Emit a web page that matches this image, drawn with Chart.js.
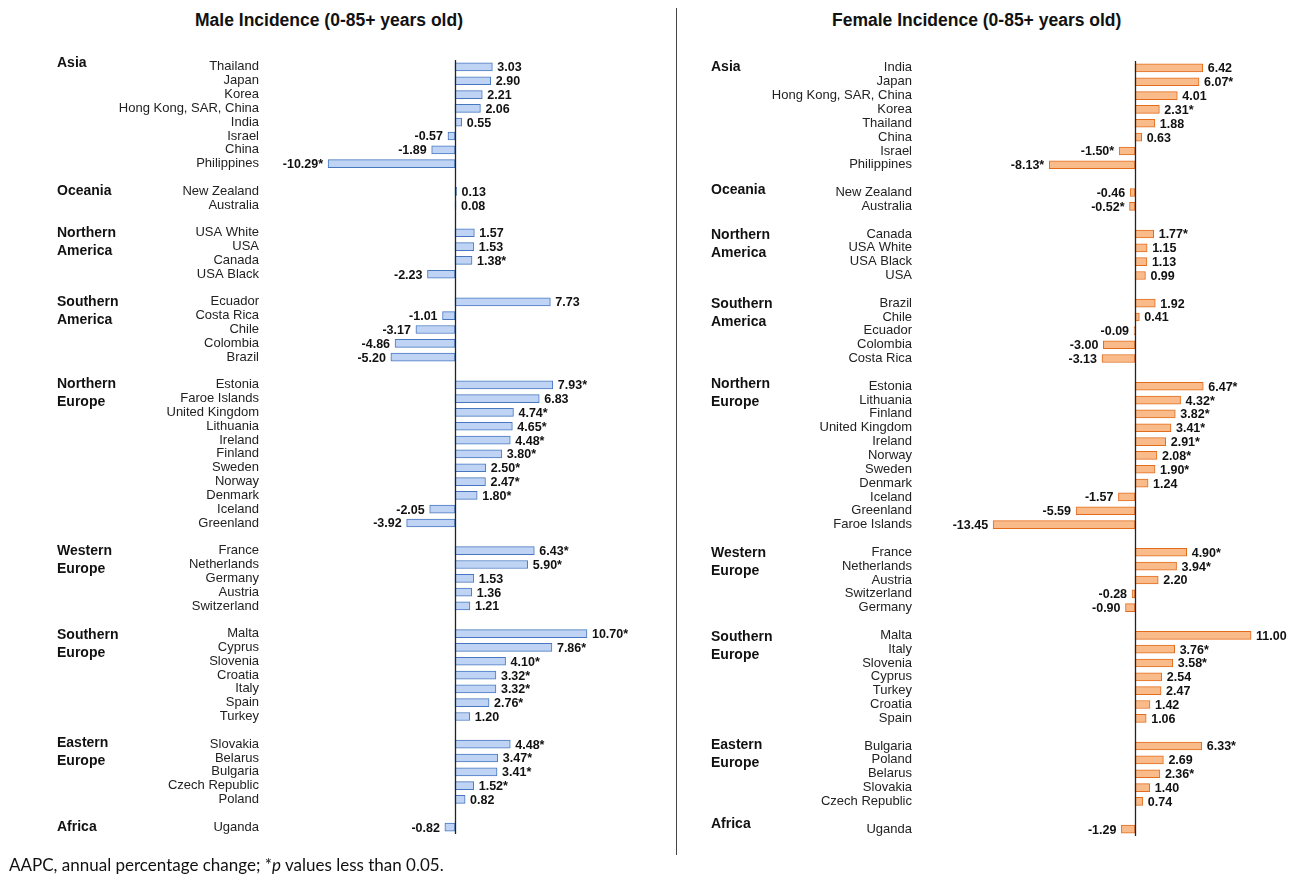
<!DOCTYPE html>
<html>
<head>
<meta charset="utf-8">
<script src="https://cdn.jsdelivr.net/npm/chart.js@4.4.0/dist/chart.umd.min.js"></script>
<style>
  body { margin: 0; background: #fff; width: 1291px; height: 874px; position: relative; overflow: hidden; }
  canvas { position: absolute; top: 0; }
  #male-chart { left: 0; }
  #female-chart { left: 676px; }
  .title { position: absolute; top: 10px; font: bold 17.5px "Liberation Sans", Arial, sans-serif; color: #111; white-space: nowrap; }
  #divider { position: absolute; left: 676px; top: 8px; width: 1px; height: 847px; background: #444; }
  #note { position: absolute; left: 9px; top: 854px; font: 17px Lato, "Open Sans", sans-serif; color: #111; white-space: nowrap; }
</style>
</head>
<body>
<div class="title" style="left:195px">Male Incidence (0-85+ years old)</div>
<div class="title" style="left:832px">Female Incidence (0-85+ years old)</div>
<div id="divider"></div>
<canvas id="male-chart" width="676" height="874"></canvas>
<canvas id="female-chart" width="615" height="874"></canvas>
<div id="note">AAPC, annual percentage change; *<i>p</i> values less than 0.05.</div>
<script>
const regionNames = ['Asia', 'Oceania', 'Northern\nAmerica', 'Southern\nAmerica', 'Northern\nEurope',
  'Western\nEurope', 'Southern\nEurope', 'Eastern\nEurope', 'Africa'];
const groupSizes = [8, 2, 4, 5, 11, 5, 7, 5, 1];

const maleCountries = [
  'Thailand', 'Japan', 'Korea', 'Hong Kong, SAR, China', 'India', 'Israel', 'China', 'Philippines',
  'New Zealand', 'Australia',
  'USA White', 'USA', 'Canada', 'USA Black',
  'Ecuador', 'Costa Rica', 'Chile', 'Colombia', 'Brazil',
  'Estonia', 'Faroe Islands', 'United Kingdom', 'Lithuania', 'Ireland', 'Finland', 'Sweden', 'Norway', 'Denmark', 'Iceland', 'Greenland',
  'France', 'Netherlands', 'Germany', 'Austria', 'Switzerland',
  'Malta', 'Cyprus', 'Slovenia', 'Croatia', 'Italy', 'Spain', 'Turkey',
  'Slovakia', 'Belarus', 'Bulgaria', 'Czech Republic', 'Poland',
  'Uganda'
];
const maleValues = [
  3.03, 2.90, 2.21, 2.06, 0.55, -0.57, -1.89, -10.29,
  0.13, 0.08,
  1.57, 1.53, 1.38, -2.23,
  7.73, -1.01, -3.17, -4.86, -5.20,
  7.93, 6.83, 4.74, 4.65, 4.48, 3.80, 2.50, 2.47, 1.80, -2.05, -3.92,
  6.43, 5.90, 1.53, 1.36, 1.21,
  10.70, 7.86, 4.10, 3.32, 3.32, 2.76, 1.20,
  4.48, 3.47, 3.41, 1.52, 0.82,
  -0.82
];
const maleSig = [
  0, 0, 0, 0, 0, 0, 0, 1,
  0, 0,
  0, 0, 1, 0,
  0, 0, 0, 0, 0,
  1, 0, 1, 1, 1, 1, 1, 1, 1, 0, 0,
  1, 1, 0, 0, 0,
  1, 1, 1, 1, 1, 1, 0,
  1, 1, 1, 1, 0,
  0
];

const femaleCountries = [
  'India', 'Japan', 'Hong Kong, SAR, China', 'Korea', 'Thailand', 'China', 'Israel', 'Philippines',
  'New Zealand', 'Australia',
  'Canada', 'USA White', 'USA Black', 'USA',
  'Brazil', 'Chile', 'Ecuador', 'Colombia', 'Costa Rica',
  'Estonia', 'Lithuania', 'Finland', 'United Kingdom', 'Ireland', 'Norway', 'Sweden', 'Denmark', 'Iceland', 'Greenland', 'Faroe Islands',
  'France', 'Netherlands', 'Austria', 'Switzerland', 'Germany',
  'Malta', 'Italy', 'Slovenia', 'Cyprus', 'Turkey', 'Croatia', 'Spain',
  'Bulgaria', 'Poland', 'Belarus', 'Slovakia', 'Czech Republic',
  'Uganda'
];
const femaleValues = [
  6.42, 6.07, 4.01, 2.31, 1.88, 0.63, -1.50, -8.13,
  -0.46, -0.52,
  1.77, 1.15, 1.13, 0.99,
  1.92, 0.41, -0.09, -3.00, -3.13,
  6.47, 4.32, 3.82, 3.41, 2.91, 2.08, 1.90, 1.24, -1.57, -5.59, -13.45,
  4.90, 3.94, 2.20, -0.28, -0.90,
  11.00, 3.76, 3.58, 2.54, 2.47, 1.42, 1.06,
  6.33, 2.69, 2.36, 1.40, 0.74,
  -1.29
];
const femaleSig = [
  0, 1, 0, 1, 0, 0, 1, 1,
  0, 1,
  1, 0, 0, 0,
  0, 0, 0, 0, 0,
  1, 1, 1, 1, 1, 1, 1, 0, 0, 0, 0,
  1, 1, 0, 0, 0,
  0, 1, 1, 0, 0, 0, 0,
  1, 0, 1, 0, 0,
  0
];

const FONT = '"Liberation Sans", Arial, sans-serif';

// insert an empty row between regions
function buildRows(countries, values, sig) {
  const labels = [], data = [], stars = [], starts = [];
  let i = 0;
  groupSizes.forEach((n, g) => {
    if (g > 0) { labels.push(''); data.push(null); stars.push(0); }
    starts.push(labels.length);
    for (let k = 0; k < n; k++, i++) {
      labels.push(countries[i]);
      data.push(values[i]);
      stars.push(sig[i]);
    }
  });
  return { labels, data, stars, starts };
}

const regionPlugin = {
  id: 'regions',
  afterDraw(chart, args, opts) {
    const ctx = chart.ctx;
    const y = chart.scales.y;
    ctx.save();
    ctx.font = 'bold 14px ' + FONT;
    ctx.fillStyle = '#111';
    ctx.textAlign = 'left';
    ctx.textBaseline = 'middle';
    opts.starts.forEach((s, g) => {
      let py = y.getPixelForValue(s) + (opts.shift[g] || 0);
      regionNames[g].split('\n').forEach((line, li) => {
        ctx.fillText(line, opts.x, py + li * 18);
      });
    });
    ctx.restore();
  }
};

const valuePlugin = {
  id: 'values',
  afterDatasetsDraw(chart, args, opts) {
    const ctx = chart.ctx;
    const meta = chart.getDatasetMeta(0);
    const ds = chart.data.datasets[0];
    ctx.save();
    ctx.font = 'bold 12.5px ' + FONT;
    ctx.fillStyle = '#111';
    ctx.textBaseline = 'middle';
    meta.data.forEach((bar, i) => {
      const v = ds.data[i];
      if (v === null) return;
      const txt = v.toFixed(2) + (opts.stars[i] ? '*' : '');
      if (v >= 0) {
        ctx.textAlign = 'left';
        ctx.fillText(txt, bar.x + 5, bar.y + 1);
      } else {
        ctx.textAlign = 'right';
        ctx.fillText(txt, bar.x - 5, bar.y + 1);
      }
    });
    // zero axis line
    const x0 = Math.round(chart.scales.x.getPixelForValue(0)) + 0.5;
    ctx.strokeStyle = '#222';
    ctx.lineWidth = 1.3;
    ctx.beginPath();
    ctx.moveTo(x0, chart.chartArea.top);
    ctx.lineTo(x0, chart.chartArea.bottom);
    ctx.stroke();
    ctx.restore();
  }
};

function makeChart(id, rows, cfg) {
  return new Chart(document.getElementById(id), {
    type: 'bar',
    data: {
      labels: rows.labels,
      datasets: [{
        data: rows.data,
        backgroundColor: cfg.fill,
        borderColor: cfg.border,
        borderWidth: 1,
        borderSkipped: false,
        barThickness: 8
      }]
    },
    plugins: [regionPlugin, valuePlugin],
    options: {
      indexAxis: 'y',
      responsive: false,
      animation: false,
      layout: { padding: cfg.padding },
      plugins: {
        legend: { display: false },
        tooltip: { enabled: false },
        regions: { starts: rows.starts, x: cfg.regionX, shift: cfg.shift },
        values: { stars: rows.stars }
      },
      scales: {
        x: { display: false, min: cfg.min, max: cfg.max },
        y: {
          grid: { display: false, drawTicks: false },
          border: { display: false },
          afterFit: s => { s.width = cfg.axisWidth; },
          ticks: {
            autoSkip: false,
            padding: cfg.tickPad,
            color: '#222',
            font: { family: FONT, size: 13 }
          }
        }
      }
    }
  });
}

makeChart('male-chart', buildRows(maleCountries, maleValues, maleSig), {
  fill: '#bfd4f4', border: '#4677c0',
  min: -15, max: 15, axisWidth: 270, tickPad: 11,
  padding: { top: 60, bottom: 40, left: 0, right: 36 },
  regionX: 57, shift: [-4, 0, 0, 0, -1, 0, 2, -1, 0]
});

makeChart('female-chart', buildRows(femaleCountries, femaleValues, femaleSig), {
  fill: '#fabb8a', border: '#e36c1c',
  min: -20, max: 14, axisWidth: 248, tickPad: 12,
  padding: { top: 61, bottom: 38, left: 0, right: 8.3 },
  regionX: 35, shift: [-1, -2, 1, 1, -2, 1, 2, -1, -5]
});
</script>
</body>
</html>
